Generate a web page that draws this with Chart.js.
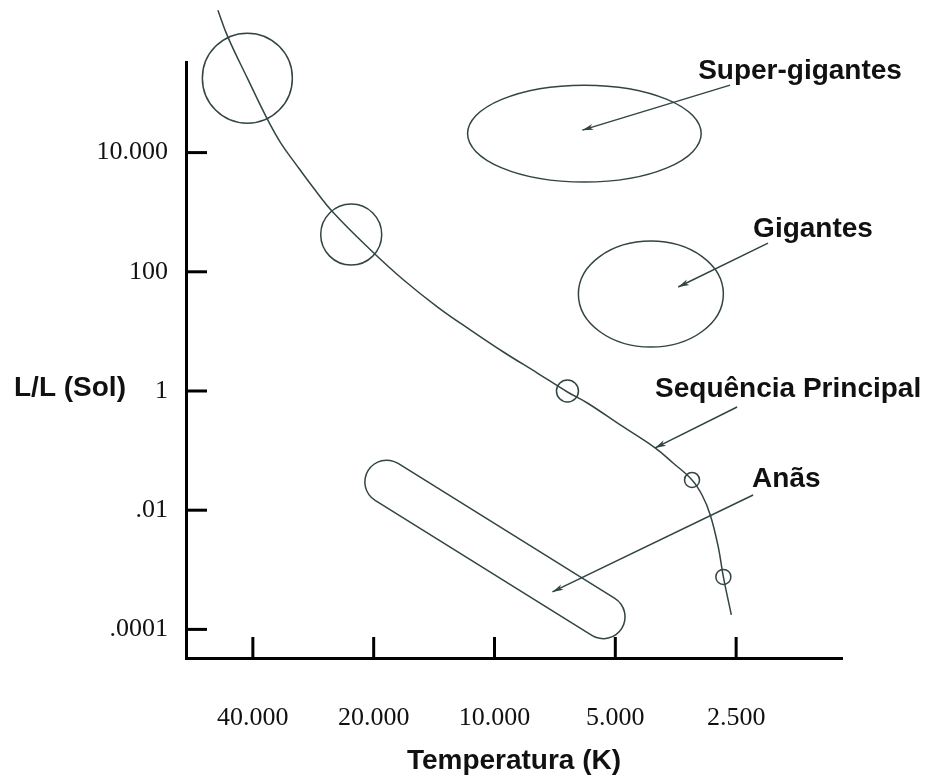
<!DOCTYPE html>
<html>
<head>
<meta charset="utf-8">
<script src="https://cdn.jsdelivr.net/npm/chart.js@4.4.1/dist/chart.umd.min.js"></script>
<style>
  body { margin: 0; background: #fff; }
</style>
</head>
<body>
<canvas id="hrChart" width="931" height="778"></canvas>
<script>
// axis ticks
let tempTicks = [40000, 20000, 10000, 5000, 2500];
let tempTickLabels = ["40.000", "20.000", "10.000", "5.000", "2.500"];
let lumTicks = [10000, 100, 1, 0.01, 0.0001];
let lumTickLabels = ["10.000", "100", "1", ".01", ".0001"];

// main sequence (temperature K, luminosity L/Lsun)
let seqTemp = [48890, 46150, 41280, 36920, 34070, 31260, 28360, 25290, 20350, 16840, 13860, 11470, 9500, 7820, 6580, 5870, 4860, 3980, 3590, 3220, 3040, 2900, 2770, 2690, 2570];
let seqLum = [2450000, 865000, 177500, 37900, 14420, 6410, 2640, 1005, 232, 72.7, 25.6, 10.5, 4.51, 2.0, 0.962, 0.629, 0.269, 0.111, 0.062, 0.0322, 0.018, 0.00833, 0.00242, 0.00076, 0.000175];

// marked stars on the sequence
let starTemp = [41280, 22750, 6580, 3220, 2690];
let starLum = [177500, 421, 1.0, 0.0322, 0.00076];

// regions: [hot edge, cool edge] and [top, bottom]
let superTemp = [11670, 3055];
let superLum = [135500, 3200];
let giantTemp = [6180, 2690];
let giantLum = [328, 5.47];
let dwarfTemp = [18570, 5356];
let dwarfLum = [0.0298, 0.000162];

// labels and arrows
let labelNames = ["Super-gigantes", "Gigantes", "Sequência Principal", "Anãs"];
let labelTemp = [3109, 2268, 3980, 2281];
let labelLum = [170700, 382, 0.793, 0.0245];
let arrowFromTemp = [2588, 2082, 2486, 2268];
let arrowFromLum = [135500, 303, 0.539, 0.018];
let arrowToTemp = [6041, 3485, 3980, 7173];
let arrowToLum = [23800, 55.5, 0.111, 0.000426];

const lineColor = "#324444";
const textColor = "#111";

function pts(t, l) {
    return t.map((v, i) => ({x: v, y: l[i]}));
}

const hrExtras = {
    id: "hrExtras",
    afterDatasetsDraw(chart) {
        const ctx = chart.ctx;
        const xs = chart.scales.x;
        const ys = chart.scales.y;
        const area = chart.chartArea;
        ctx.save();

        // region ellipses
        ctx.strokeStyle = lineColor;
        ctx.lineWidth = 1.5;
        [[superTemp, superLum], [giantTemp, giantLum]].forEach(r => {
            const x0 = xs.getPixelForValue(r[0][0]), x1 = xs.getPixelForValue(r[0][1]);
            const y0 = ys.getPixelForValue(r[1][0]), y1 = ys.getPixelForValue(r[1][1]);
            ctx.beginPath();
            ctx.ellipse((x0 + x1) / 2, (y0 + y1) / 2, Math.abs(x1 - x0) / 2, Math.abs(y1 - y0) / 2, 0, 0, Math.PI * 2);
            ctx.stroke();
        });

        // arrow heads
        ctx.fillStyle = lineColor;
        chart.data.datasets.forEach((ds, i) => {
            if (!ds.isArrow) return;
            const m = chart.getDatasetMeta(i);
            const a = m.data[0], b = m.data[1];
            const ang = Math.atan2(b.y - a.y, b.x - a.x);
            ctx.beginPath();
            ctx.moveTo(b.x, b.y);
            ctx.lineTo(b.x - 11 * Math.cos(ang) + 3 * Math.sin(ang), b.y - 11 * Math.sin(ang) - 3 * Math.cos(ang));
            ctx.lineTo(b.x - 8 * Math.cos(ang), b.y - 8 * Math.sin(ang));
            ctx.lineTo(b.x - 11 * Math.cos(ang) - 3 * Math.sin(ang), b.y - 11 * Math.sin(ang) + 3 * Math.cos(ang));
            ctx.closePath();
            ctx.fill();
        });

        // inward tick marks
        ctx.strokeStyle = "#000";
        ctx.lineWidth = 3;
        xs.ticks.forEach(t => {
            const px = xs.getPixelForValue(t.value);
            ctx.beginPath();
            ctx.moveTo(px, area.bottom);
            ctx.lineTo(px, area.bottom - 21);
            ctx.stroke();
        });
        ys.ticks.forEach(t => {
            const py = ys.getPixelForValue(t.value);
            ctx.beginPath();
            ctx.moveTo(area.left, py);
            ctx.lineTo(area.left + 21, py);
            ctx.stroke();
        });

        // region labels
        ctx.fillStyle = textColor;
        ctx.font = "bold 28px 'Liberation Sans', Arial, sans-serif";
        ctx.textAlign = "left";
        ctx.textBaseline = "alphabetic";
        labelNames.forEach((name, i) => {
            ctx.fillText(name, xs.getPixelForValue(labelTemp[i]), ys.getPixelForValue(labelLum[i]));
        });

        // y axis title, horizontal beside the "1" tick
        ctx.textBaseline = "middle";
        ctx.fillText("L/L (Sol)", 14, ys.getPixelForValue(1) - 3);
        ctx.restore();
    }
};

const datasets = [
    {   // dwarfs: capsule outline
        data: pts(dwarfTemp, dwarfLum), showLine: true, borderColor: lineColor,
        borderWidth: 45, borderCapStyle: "round", pointRadius: 0, clip: false, order: 10
    },
    {
        data: pts(dwarfTemp, dwarfLum), showLine: true, borderColor: "#fff",
        borderWidth: 42, borderCapStyle: "round", pointRadius: 0, clip: false, order: 9
    },
    {   // main sequence
        data: pts(seqTemp, seqLum), showLine: true, borderColor: lineColor,
        borderWidth: 1.5, tension: 0.4, pointRadius: 0, clip: false, order: 5
    },
    {   // marked stars
        data: pts(starTemp, starLum), showLine: false,
        pointRadius: [45, 30.5, 11, 7.5, 7.5], pointBorderColor: lineColor,
        pointBackgroundColor: "rgba(0,0,0,0)", pointBorderWidth: 1.5, clip: false, order: 4
    }
];
labelNames.forEach((n, i) => {
    datasets.push({
        data: [{x: arrowFromTemp[i], y: arrowFromLum[i]}, {x: arrowToTemp[i], y: arrowToLum[i]}],
        showLine: true, borderColor: lineColor, borderWidth: 1.5, pointRadius: 0,
        clip: false, order: 1, isArrow: true
    });
});

new Chart("hrChart", {
    type: "scatter",
    data: { datasets: datasets },
    options: {
        responsive: false,
        animation: false,
        events: [],
        layout: { padding: { top: 62, right: 89, left: 0, bottom: 0 } },
        elements: { line: { capBezierPoints: false } },
        plugins: { legend: { display: false }, tooltip: { enabled: false } },
        scales: {
            x: {
                type: "logarithmic",
                reverse: true,
                min: 1362,
                max: 58700,
                grid: { display: false, drawTicks: false },
                border: { display: true, color: "#000", width: 3 },
                afterBuildTicks: s => { s.ticks = tempTicks.map(v => ({value: v})); },
                afterFit: s => { s.height = 120; },
                ticks: {
                    autoSkip: false, maxRotation: 0, padding: 45, color: textColor,
                    font: { family: "'Liberation Serif', 'Times New Roman', serif", size: 26 },
                    callback: (v, i) => tempTickLabels[i]
                },
                title: {
                    display: true, text: "Temperatura (K)", color: textColor,
                    font: { family: "'Liberation Sans', Arial, sans-serif", size: 28, weight: "bold" },
                    padding: { top: 0, bottom: 0 }
                }
            },
            y: {
                type: "logarithmic",
                min: 3.3113e-5,
                max: 331131,
                grid: { display: false, drawTicks: false },
                border: { display: true, color: "#000", width: 3 },
                afterBuildTicks: s => { s.ticks = lumTicks.map(v => ({value: v})); },
                afterFit: s => { s.width = 186; },
                ticks: {
                    autoSkip: false, padding: 18, color: textColor,
                    font: { family: "'Liberation Serif', 'Times New Roman', serif", size: 26 },
                    callback: (v, i) => lumTickLabels[i]
                }
            }
        }
    },
    plugins: [hrExtras]
});
</script>
</body>
</html>
